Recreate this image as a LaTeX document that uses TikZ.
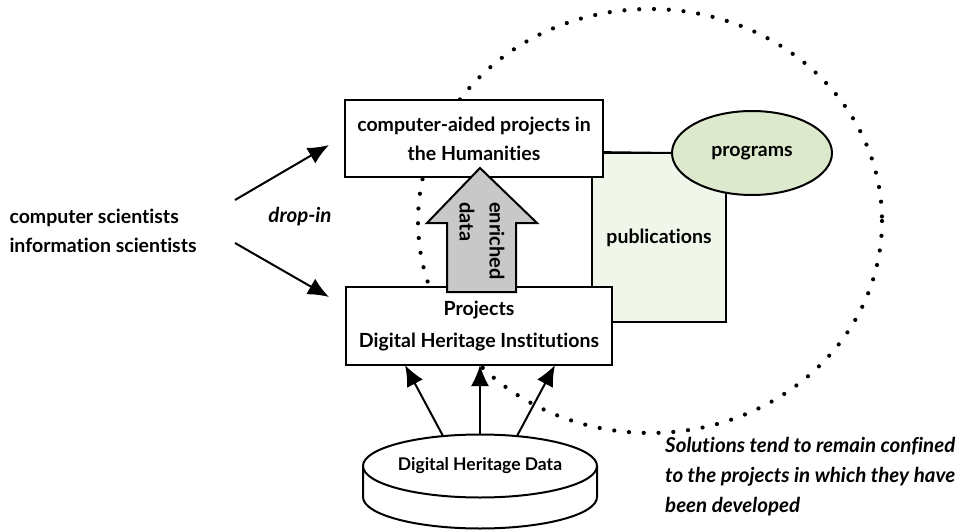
\documentclass[tikz,border=0pt]{standalone}
\usepackage{fontspec}
\setmainfont{Lato}[RawFeature={-liga}]
\usetikzlibrary{arrows.meta,shapes.geometric}
\definecolor{progfill}{RGB}{221,233,205}
\definecolor{pubfill}{RGB}{240,246,233}
\definecolor{arrowgray}{RGB}{200,200,200}
\tikzset{
  box/.style={draw, line width=2pt, fill=white, align=center, font=\fontsize{19.5}{29}\selectfont\bfseries},
  lbl/.style={align=left, font=\fontsize{19.5}{29}\selectfont\bfseries},
  conn/.style={line width=2pt, -{Latex[length=21pt,width=18pt]}},
  dots/.style={line width=4.2pt, line cap=round, dash pattern=on 0pt off 14.8pt},
}
\begin{document}
\begin{tikzpicture}[x=1pt,y=-1pt]
\useasboundingbox (0,0) rectangle (967,532);
% dotted boundary
\draw[dots] (650,221) ellipse [x radius=232, y radius=212];
% publications
\node[box, fill=pubfill, minimum width=134pt, minimum height=169pt, inner sep=0pt] (pub) at (659,237.5) {publications};
\node[draw, line width=2pt, fill=progfill, ellipse, minimum width=160pt, minimum height=84pt, font=\fontsize{19.5}{29}\selectfont\bfseries] (prog) at (752,153) {programs};
\draw[line width=2pt] (pub.north west) -- (prog.west);
% top box
\node[box, minimum width=258pt, minimum height=77pt, inner sep=0pt] (top) at (474,138.5) {computer-aided projects in\\the Humanities};
% bottom box
\node[box, minimum width=266pt, minimum height=78pt, inner sep=0pt, font=\fontsize{19.5}{32}\selectfont\bfseries] (bot) at (479,326) {Projects\\Digital Heritage Institutions};
% enriched data arrow
\draw[line width=2pt, fill=arrowgray] (480,168) -- (537,223) -- (516,223) -- (516,292) -- (447,292) -- (447,223) -- (427,223) -- cycle;
\node[lbl, rotate=-90, font=\fontsize{20}{30}\selectfont\bfseries] (enr) at (482,241) {enriched\\data};
% cylinder
\draw[line width=2pt, fill=white] (363,466) -- (363,497) arc[start angle=180, end angle=0, x radius=117, y radius=31.5] -- (597,466);
\draw[line width=2pt, fill=white] (480,466) ellipse [x radius=117, y radius=31.5];
\node[font=\fontsize{17.5}{20}\selectfont\bfseries] (dhd) at (480,466) {Digital Heritage Data};
\coordinate (c1) at (443,436);
\coordinate (c2) at (480,434.5);
\coordinate (c3) at (517,436);
\coordinate (t1) at (405,365);
\coordinate (t2) at (480,365);
\coordinate (t3) at (555,365);
\draw[conn] (c1) -- (t1);
\draw[conn] (c2) -- (t2);
\draw[conn] (c3) -- (t3);
% left side
\node[lbl, anchor=west] (sci) at (6,230.5) {computer scientists\\information scientists};
\coordinate (s1) at (235,200);
\coordinate (s2) at (235,243);
\coordinate (a1) at (329,145);
\coordinate (a2) at (329,297);
\draw[conn] (s1) -- (a1);
\draw[conn] (s2) -- (a2);
\node[font=\fontsize{20.5}{29}\selectfont\bfseries\itshape] (drop) at (300,217) {drop-in};
% note
\node[lbl, anchor=north west, font=\fontsize{20.5}{30}\selectfont\bfseries\itshape, inner sep=0pt] (note) at (665,437) {Solutions tend to remain confined\\to the projects in which they have\\been developed};
\end{tikzpicture}
\end{document}
